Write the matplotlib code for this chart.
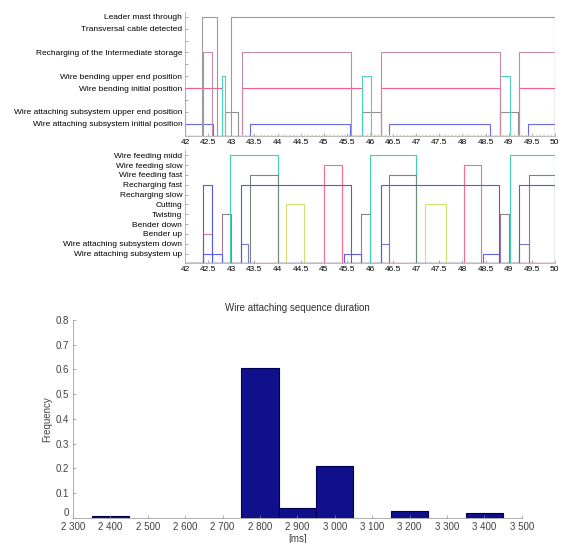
import numpy as np
import matplotlib.pyplot as plt
from matplotlib.ticker import FuncFormatter

plt.rcParams['font.family'] = ['Liberation Sans', 'DejaVu Sans']

# time window [s]
t_start, t_end = 42.0, 50.0
time_ticks = np.arange(42.0, 50.01, 0.5)

# top panel: sensor states (level, colour, high intervals)
top_labels = ['Wire attaching subsystem initial position',
              'Wire attaching subsystem upper end position',
              'Wire bending initial position',
              'Wire bending upper end position',
              'Recharging of the Intermediate storage',
              'Transversal cable detected',
              'Leader mast through']
top_label_levels = [1, 2, 4, 5, 7, 9, 10]

leader_mast = [(42.37, 42.70), (42.99, 50.0)]
recharging_storage = [(42.38, 42.59), (43.22, 45.60), (46.23, 48.82), (49.23, 50.0)]
bending_initial = [(42.0, 42.80), (43.24, 45.82), (46.23, 48.82), (49.23, 50.0)]
bending_upper = [(42.80, 42.87), (45.82, 46.03), (48.82, 49.03)]
was_upper = [(42.86, 43.14), (45.82, 46.23), (48.82, 49.20)]
was_initial = [(42.0, 42.60), (43.41, 45.57), (46.42, 48.60), (49.43, 50.0)]

# middle panel: actuator commands
mid_labels = ['Wire attaching subsystem up', 'Wire attaching subsystem down',
              'Bender up', 'Bender down', 'Twisting', 'Cutting',
              'Recharging slow', 'Recharging fast', 'Wire feeding fast',
              'Wire feeding slow', 'Wire feeding midd']

feed_midd = [(42.98, 44.0), (46.0, 47.0), (49.02, 50.0)]
feed_slow = [(45.0, 45.40), (48.03, 48.40)]
feed_fast = [(43.40, 44.0), (46.42, 47.0), (49.45, 50.0)]
rech_fast = [(42.38, 42.59), (43.20, 45.60), (46.23, 48.80), (49.23, 50.0)]
cutting = [(44.19, 44.58), (47.20, 47.64)]
twisting = [(42.80, 43.0), (45.80, 46.0), (48.82, 49.0)]
bender_up = [(42.38, 42.59)]
was_down = [(43.20, 43.37), (46.23, 46.42), (49.23, 49.45)]
was_up = [(42.38, 42.80), (45.43, 45.80), (48.44, 48.80)]

# bottom panel: histogram of sequence duration
bin_centres = [2400, 2800, 2900, 3000, 3200, 3400]
frequency = [0.01, 0.605, 0.04, 0.21, 0.03, 0.02]
hist_ticks = np.arange(2300, 3501, 100)


def step_trace(intervals, level):
    x, y = [t_start], [0]
    for s, e in intervals:
        x += [s, s, e, e]
        y += [0, level, level, 0]
    x.append(t_end)
    y.append(0)
    return x, y


def style_signal_axes(ax):
    ax.set_xlim(t_start, t_end)
    ax.set_xticks(time_ticks)
    ax.set_xticklabels(['%g' % t for t in time_ticks])
    for s in ['top', 'right']:
        ax.spines[s].set_visible(False)
    for s in ['left', 'bottom']:
        ax.spines[s].set_color('#b0b0b0')
        ax.spines[s].set_linewidth(0.6)
    ax.tick_params(direction='in', length=2, width=0.5, color='#909090',
                   labelsize=6, pad=2)


fig = plt.figure(figsize=(5.61, 5.43), dpi=100)

# top panel
ax1 = fig.add_axes([0.330, 0.750, 0.659, 0.228])
top_signals = [
    (was_initial, 1, '#6a6af0'),
    (was_upper, 2, '#909090'),
    (bending_initial, 4, '#ff5a85'),
    (bending_upper, 5, '#50d0c0'),
    (recharging_storage, 7, '#c48aaa'),
    (leader_mast, 10, '#9a9a9a'),
]
for intervals, level, color in top_signals:
    x, y = step_trace(intervals, level)
    ax1.plot(x, y, color=color, lw=0.8)
ax1.plot([43.2, t_end], [0.05, 0.05], color='#d8e070', lw=1.0, ls=':')
ax1.set_ylim(0, 10.4)
ax1.set_yticks(range(1, 11))
ax1.set_yticklabels([top_labels[top_label_levels.index(k)] if k in top_label_levels else ''
                     for k in range(1, 11)])
style_signal_axes(ax1)

# middle panel
ax2 = fig.add_axes([0.330, 0.515, 0.659, 0.208])
mid_signals = [
    (cutting, 6, '#d2e070'),
    (twisting, 5, '#a07890'),
    (bender_up, 3, '#e07a90'),
    (feed_slow, 10, '#ff6a8a'),
    (feed_midd, 11, '#40d0b0'),
    (feed_fast, 9, '#6f8a78'),
    (was_down, 2, '#7a7ac8'),
    (was_up, 1, '#6060f0'),
    (rech_fast, 8, '#5555f0'),
]
for intervals, level, color in mid_signals:
    x, y = step_trace(intervals, level)
    ax2.plot(x, y, color=color, lw=0.8)
ax2.set_ylim(0, 11.5)
ax2.set_yticks(range(1, 12))
ax2.set_yticklabels(mid_labels)
style_signal_axes(ax2)

# bottom panel
ax3 = fig.add_axes([0.130, 0.046, 0.800, 0.365])
ax3.bar(bin_centres, frequency, width=100, color='#10108c', edgecolor='#000050', lw=0.8)
ax3.set_xlim(2300, 3500)
ax3.set_ylim(0, 0.8)
ax3.set_xticks(hist_ticks)
ax3.xaxis.set_major_formatter(FuncFormatter(lambda v, p: '{:,.0f}'.format(v).replace(',', ' ')))
ax3.set_yticks(np.arange(0, 0.81, 0.1))
ax3.yaxis.set_major_formatter(FuncFormatter(lambda v, p: '%g' % round(v, 1)))
for s in ['top', 'right']:
    ax3.spines[s].set_visible(False)
for s in ['left', 'bottom']:
    ax3.spines[s].set_color('#a0a0a0')
    ax3.spines[s].set_linewidth(0.6)
ax3.tick_params(direction='in', length=2, width=0.5, color='#909090',
                labelsize=7, labelcolor='#404040', pad=2)
ax3.tick_params(axis='x', pad=3)
ax3.tick_params(axis='y', pad=3)
ax3.get_yticklabels()[0].set_verticalalignment('bottom')
ax3.set_title('Wire attaching sequence duration', fontsize=7, color='#303030', pad=6)
ax3.set_xlabel('[ms]', fontsize=7, color='#404040', labelpad=1)
ax3.set_ylabel('Frequency', fontsize=7, color='#404040', labelpad=2)

fig.savefig('out.png', dpi=100)
